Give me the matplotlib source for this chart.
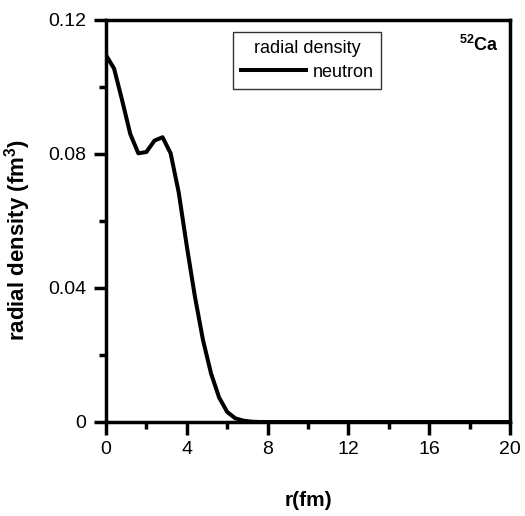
import matplotlib
matplotlib.use("Agg")
import matplotlib.pyplot as plt
from matplotlib.ticker import MultipleLocator

plt.rcParams['font.family'] = ['Liberation Sans', 'DejaVu Sans']
plt.rcParams['mathtext.fontset'] = 'custom'
plt.rcParams['mathtext.rm'] = 'Liberation Sans'
plt.rcParams['mathtext.bf'] = 'Liberation Sans:bold'

r_fm = [0.0, 0.4, 0.8, 1.2, 1.6, 2.0, 2.4, 2.8, 3.2, 3.6, 4.0, 4.4, 4.8, 5.2,
        5.6, 6.0, 6.4, 6.8, 7.2, 7.6, 8.0, 10.0, 12.0, 14.0, 16.0, 18.0, 20.0]
neutron = [0.1095, 0.1055, 0.0960, 0.0860, 0.0802, 0.0806, 0.0840, 0.0850,
           0.0802, 0.0685, 0.0525, 0.0375, 0.0245, 0.0145, 0.0073, 0.0030,
           0.0011, 0.0004, 0.0001, 0.0, 0.0, 0.0, 0.0, 0.0, 0.0, 0.0, 0.0]
x_ticks = [0, 4, 8, 12, 16, 20]
y_ticks = [0, 0.04, 0.08, 0.12]
y_tick_labels = ['0', '0.04', '0.08', '0.12']

fig = plt.figure(figsize=(5.25, 5.16), dpi=100)
ax = fig.add_axes([106/525, 1-422/516, (510-106)/525, (422-20)/516])

ax.plot(r_fm, neutron, color='black', lw=2.9, label='neutron')

ax.set_xlim(0, 20)
ax.set_ylim(0, 0.12)
ax.set_xticks(x_ticks)
ax.set_xticklabels([str(t) for t in x_ticks])
ax.set_yticks(y_ticks)
ax.set_yticklabels(y_tick_labels)
ax.xaxis.set_minor_locator(MultipleLocator(2))
ax.yaxis.set_minor_locator(MultipleLocator(0.02))
ax.tick_params(which='major', direction='out', length=9, width=2.5,
               labelsize=14, pad=5)
ax.tick_params(which='minor', direction='out', length=5, width=2.5)
ax.tick_params(top=False, right=False, which='both')
for s in ax.spines.values():
    s.set_linewidth(2.5)

ax.set_xlabel('r(fm)', fontsize=15, fontweight='bold')
ax.xaxis.set_label_coords(0.5, -0.172)
ax.set_ylabel(r'radial density (fm$^{\mathbf{3}}$)', fontsize=16,
              fontweight='bold')
ax.yaxis.set_label_coords(-0.181, 0.453)

leg = ax.legend(loc='upper left', bbox_to_anchor=(0.314, 0.970),
                borderaxespad=0,
                title='radial density', fontsize=13, title_fontsize=13,
                frameon=True, fancybox=False, edgecolor='black',
                handlelength=3.6, borderpad=0.45, handletextpad=0.35,
                labelspacing=0.35)
leg.get_frame().set_linewidth(1.0)

ax.text(0.972, 0.938, r'$^{\mathbf{52}}\mathbf{Ca}$', transform=ax.transAxes,
        ha='right', va='center', fontsize=13)

fig.savefig('out.png', dpi=100)
